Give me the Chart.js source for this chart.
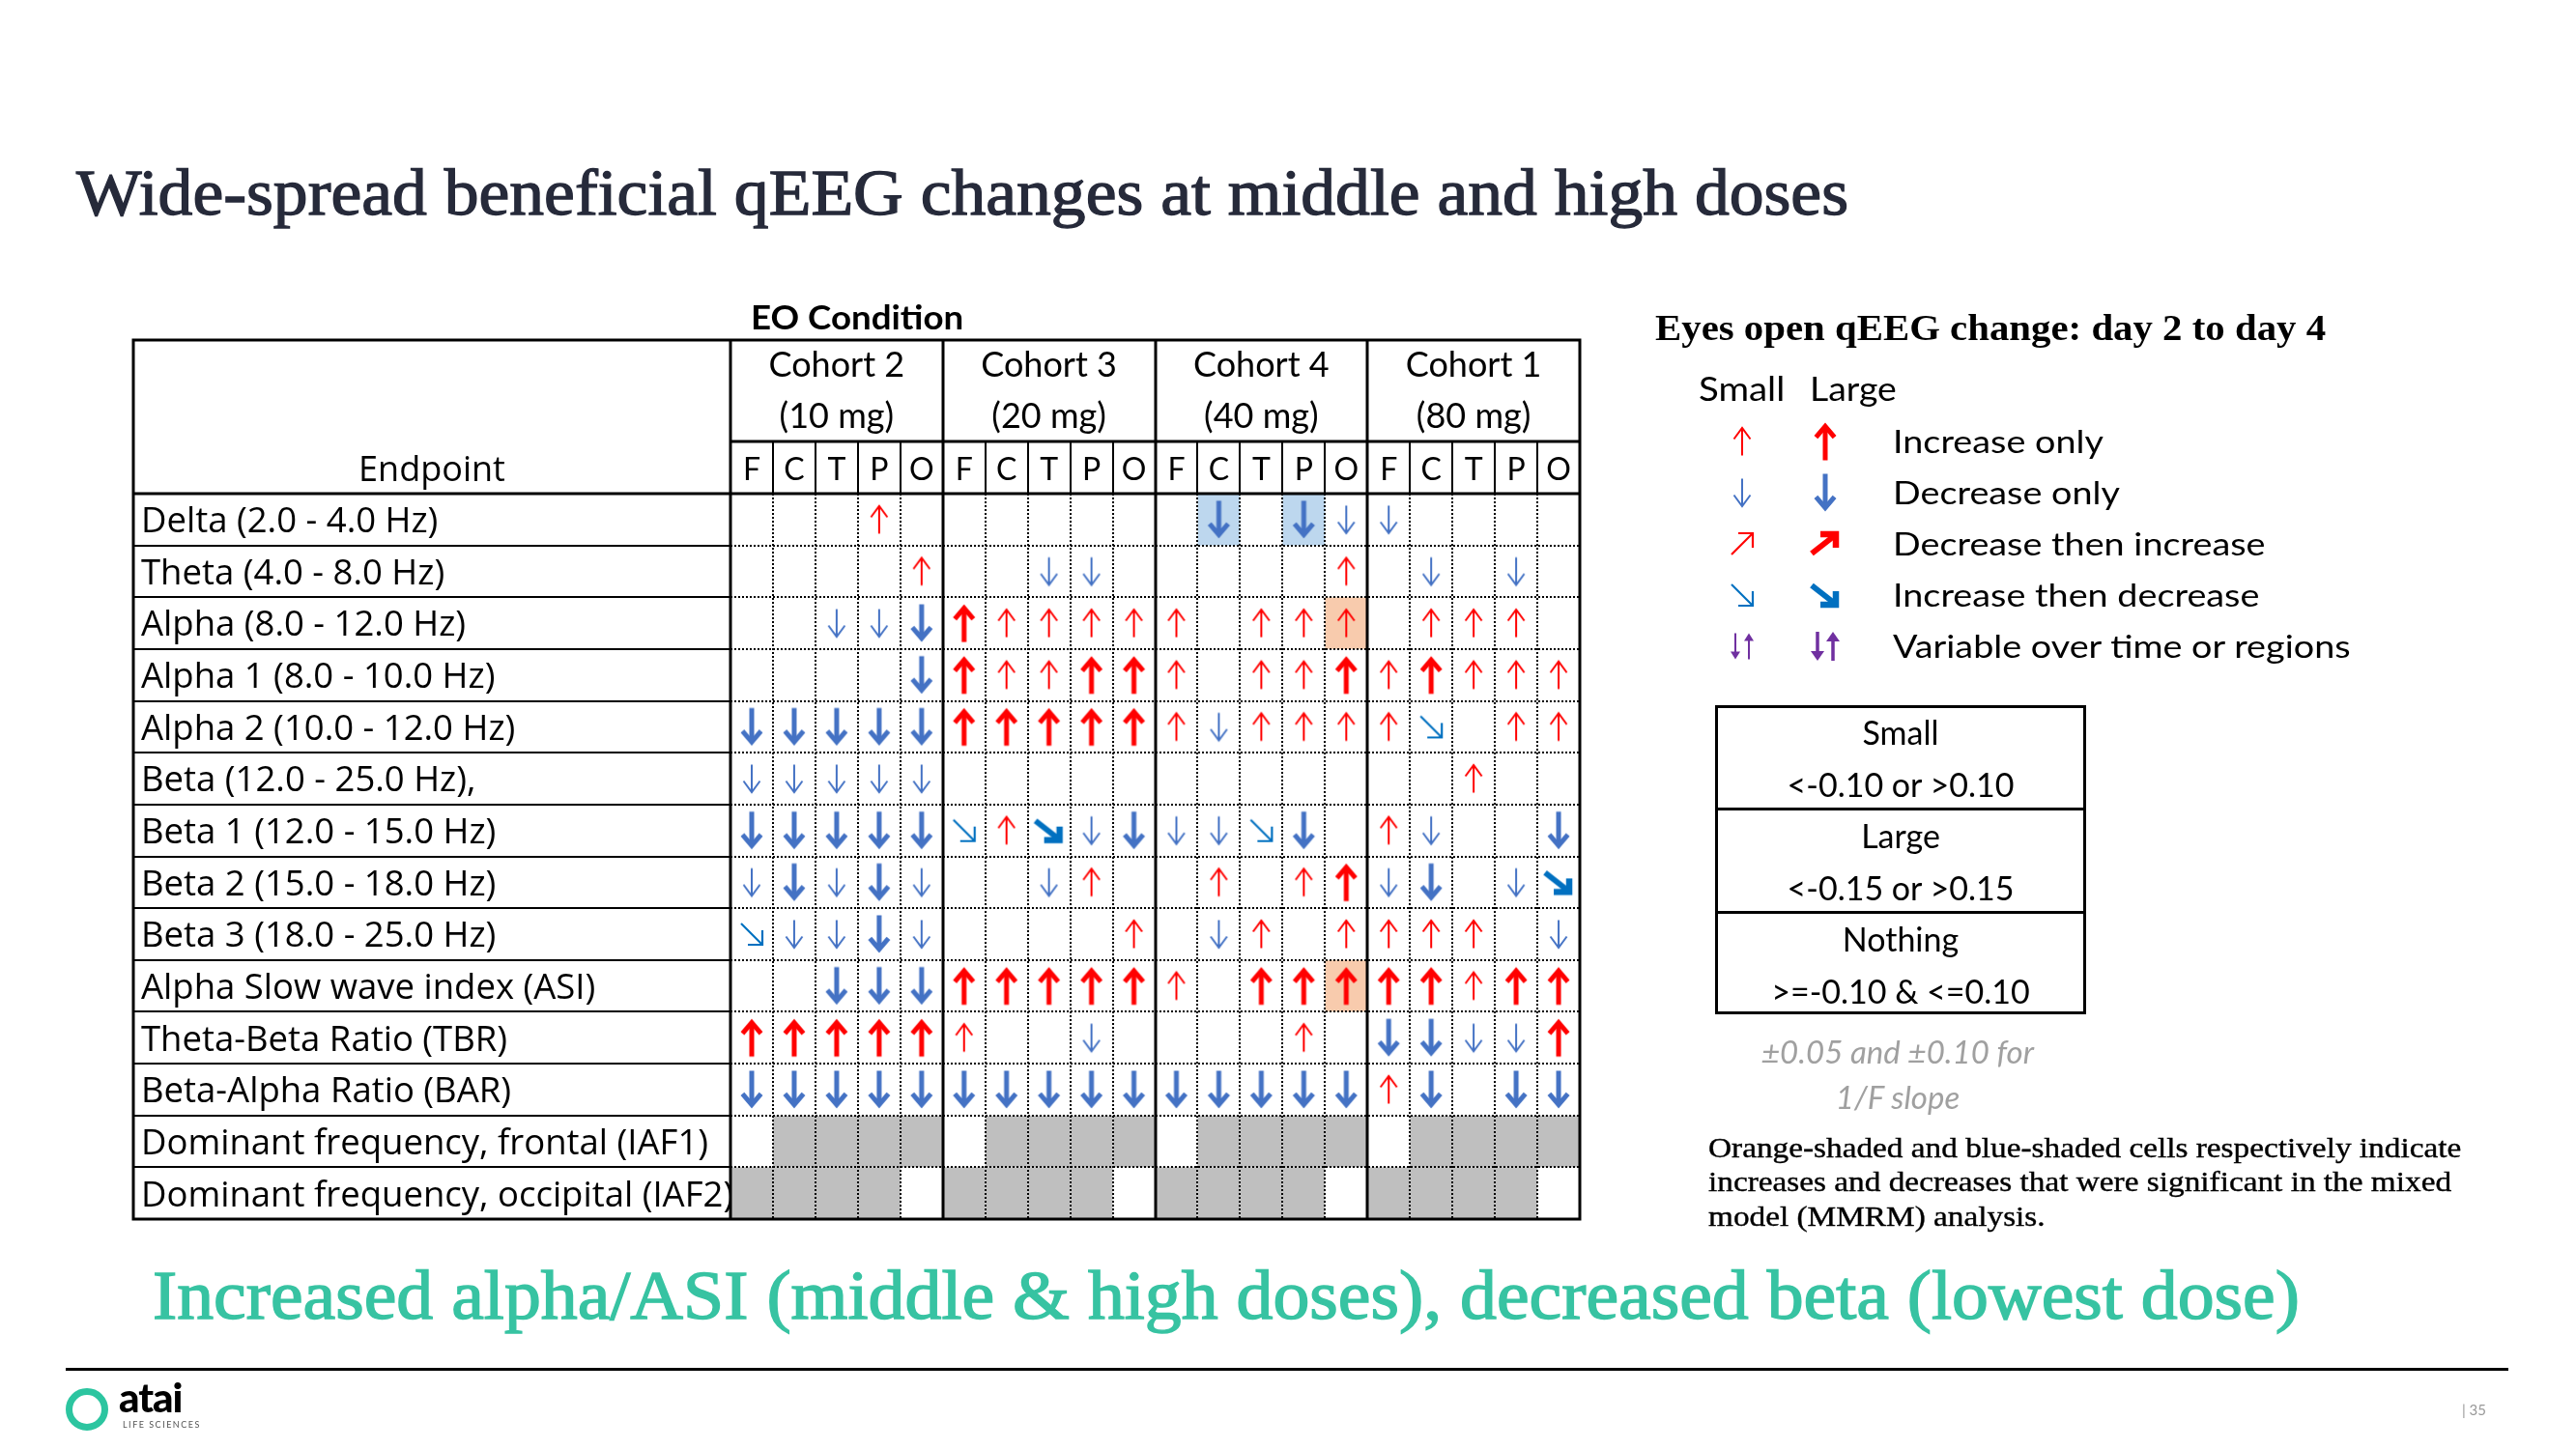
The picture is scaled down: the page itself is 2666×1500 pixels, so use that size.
<!DOCTYPE html>
<html>
<head>
<meta charset="utf-8">
<title>qEEG changes</title>
<script src="https://cdn.jsdelivr.net/npm/chart.js@4.4.1/dist/chart.umd.min.js"></script>
<style>
  html, body { margin: 0; padding: 0; background: #fff; }
  #page { position: relative; width: 2666px; height: 1500px; overflow: hidden; background: #fff; }
  #table { position: absolute; left: 0; top: 0; }
  .txt { position: absolute; white-space: nowrap; transform-origin: 0 50%; color: #000; }
  .serif { font-family: "Liberation Serif", serif; }
  .sans { font-family: Lato, sans-serif; }
  .center { text-align: center; }
  .arrow { position: absolute; }
</style>
</head>
<body>
<div id="page">
  <canvas id="table" width="2666" height="1500"></canvas>

  <div id="title" class="txt serif" style="left:79px;top:159px;font-size:68px;line-height:80px;color:#262a3a;-webkit-text-stroke:1.3px #262a3a">Wide-spread beneficial qEEG changes at middle and high doses</div>

  <div id="eo" class="txt sans" style="left:777px;top:307px;font-size:35px;line-height:40px;font-weight:700">EO Condition</div>
  <div class="txt center" style="left:138px;width:618px;top:465px;font-size:36px;line-height:40px;font-family:'Open Sans',sans-serif">Endpoint</div>

  <div id="legendTitle" class="txt serif" style="left:1713px;top:317px;font-size:38px;line-height:44px;font-weight:700">Eyes open qEEG change: day 2 to day 4</div>
  <div class="txt sans" style="left:1758px;top:382px;font-size:34px;line-height:40px;transform:scaleX(1.13)">Small</div>
  <div class="txt sans" style="left:1873px;top:382px;font-size:34px;line-height:40px;transform:scaleX(1.1)">Large</div>

  <div style="position:absolute;left:1775px;top:730px;width:384px;height:320px;border:3px solid #000;box-sizing:border-box"></div>
  <div style="position:absolute;left:1775px;top:836px;width:384px;height:3px;background:#000"></div>
  <div style="position:absolute;left:1775px;top:943px;width:384px;height:3px;background:#000"></div>

  <div class="txt sans center" style="left:1772px;width:384px;top:1068px;font-size:33px;line-height:40px;font-style:italic;color:#a0a0a0">±0.05 and ±0.10 for</div>
  <div class="txt sans center" style="left:1772px;width:384px;top:1115px;font-size:33px;line-height:40px;font-style:italic;color:#a0a0a0">1/F slope</div>

  <div id="note" class="txt serif" style="left:1768px;top:1170px;font-size:30px;line-height:35.3px;transform-origin:0 0;-webkit-text-stroke:0.4px #000">Orange-shaded and blue-shaded cells respectively indicate<br>increases and decreases that were significant in the mixed<br>model (MMRM) analysis.</div>

  <div id="takeaway" class="txt serif" style="left:158px;top:1299px;font-size:71px;line-height:84px;color:#37c3a2;-webkit-text-stroke:1.4px #37c3a2">Increased alpha/ASI (middle &amp; high doses), decreased beta (lowest dose)</div>

  <div style="position:absolute;left:68px;top:1416px;width:2528px;height:3px;background:#000"></div>
  <div style="position:absolute;left:68px;top:1437px;width:44px;height:44px;border-radius:50%;border:7px solid #2cc5a0;box-sizing:border-box"></div>
  <div class="txt sans" style="left:123px;top:1424px;font-size:42px;line-height:44px;font-weight:900;letter-spacing:-1px">atai</div>
  <div class="txt sans" style="left:127px;top:1469px;font-size:9px;line-height:12px;letter-spacing:1.5px;color:#555">LIFE SCIENCES</div>
  <div class="txt sans" style="left:2548px;top:1450px;font-size:15px;line-height:18px;color:#999">| 35</div>
</div>

<script>
const endpoints = [
  'Delta (2.0 - 4.0 Hz)', 'Theta (4.0 - 8.0 Hz)', 'Alpha (8.0 - 12.0 Hz)', 'Alpha 1 (8.0 - 10.0 Hz)',
  'Alpha 2 (10.0 - 12.0 Hz)', 'Beta (12.0 - 25.0 Hz),', 'Beta 1 (12.0 - 15.0 Hz)', 'Beta 2 (15.0 - 18.0 Hz)',
  'Beta 3 (18.0 - 25.0 Hz)', 'Alpha Slow wave index (ASI)', 'Theta-Beta Ratio (TBR)', 'Beta-Alpha Ratio (BAR)',
  'Dominant frequency, frontal (IAF1)', 'Dominant frequency, occipital (IAF2)'
];
const cohorts = [['Cohort 2', '(10 mg)'], ['Cohort 3', '(20 mg)'], ['Cohort 4', '(40 mg)'], ['Cohort 1', '(80 mg)']];
const regions = ['F', 'C', 'T', 'P', 'O'];

// one string per endpoint, 5 regions per cohort (table order)
// u/U = small/large increase, d/D = small/large decrease,
// e/E = small/large increase then decrease, g = not analysed (grey), . = nothing
const changes = [
  '...u. ..... .D.Dd d....',
  '....u ..dd. ....u .d.d.',
  '..ddD Uuuuu u.uuu .uuu.',
  '....D UuuUU u.uuU uUuuu',
  'DDDDD UUUUU uduuu ue.uu',
  'ddddd ..... ..... ..u..',
  'DDDDD euEdD ddeD. ud..D',
  'dDdDd ..du. .u.uU dD.dE',
  'eddDd ....u .du.u uuu.d',
  '..DDD UUUUU u.UUU UUuUU',
  'UUUUU u..d. ...u. DDddU',
  'DDDDD DDDDD DDDDD uD.DD',
  '.gggg .gggg .gggg .gggg',
  'gggg. gggg. gggg. gggg.'
];
// [row, column] of cells significant in the MMRM analysis
const sigIncrease = [[2, 14], [9, 14]];
const sigDecrease = [[0, 11], [0, 13]];

const legendItems = [
  ['u', 'U', 'Increase only'],
  ['d', 'D', 'Decrease only'],
  ['r', 'R', 'Decrease then increase'],
  ['e', 'E', 'Increase then decrease'],
  ['v', 'V', 'Variable over time or regions']
];
const thresholds = [
  ['Small', '<-0.10 or >0.10'],
  ['Large', '<-0.15 or >0.15'],
  ['Nothing', '>=-0.10 & <=0.10']
];

const RED = '#ff0000', BLUE = '#4472c4', DBLUE = '#0070c0', PURPLE = '#7030a0';

function drawUp(g, big) {
  if (big) {
    g.fillRect(-2.5, -13, 5, 32.5);
    g.beginPath();
    g.moveTo(0, -19.5); g.lineTo(11.5, -6); g.lineTo(7.7, -2.8);
    g.lineTo(0, -11.8); g.lineTo(-7.7, -2.8); g.lineTo(-11.5, -6);
    g.closePath(); g.fill();
  } else {
    g.lineWidth = 2;
    g.beginPath(); g.moveTo(0, 14.5); g.lineTo(0, -13.5); g.stroke();
    g.beginPath(); g.moveTo(-8.5, -2.5); g.lineTo(0, -14); g.lineTo(8.5, -2.5); g.stroke();
  }
}

function drawDiag(g, big) {
  g.lineJoin = 'miter';
  if (big) {
    g.lineWidth = 6;
    g.beginPath(); g.moveTo(-14, -10); g.lineTo(9, 8); g.stroke();
    g.lineWidth = 6.5;
    g.beginPath(); g.moveTo(11, -4); g.lineTo(11, 10); g.lineTo(-5, 10); g.stroke();
  } else {
    g.lineWidth = 2.2;
    g.beginPath(); g.moveTo(-11, -11); g.lineTo(11, 11); g.stroke();
    g.beginPath(); g.moveTo(11, -4); g.lineTo(11, 11); g.lineTo(-4, 11); g.stroke();
  }
}

function drawPair(g, big) {
  const w = big ? 3.5 : 2, h = big ? 15 : 13.5, hw = big ? 7 : 5, hh = big ? 10 : 8, ox = big ? 8 : 7;
  [[-ox, -1], [ox, 1]].forEach(([dx, dir]) => {
    g.save();
    g.translate(dx, 0);
    g.scale(1, dir);
    g.fillRect(-w / 2, -h + hh - 1, w, 2 * h - hh + 1);
    g.beginPath(); g.moveTo(0, -h); g.lineTo(hw, -h + hh); g.lineTo(-hw, -h + hh); g.closePath(); g.fill();
    g.restore();
  });
}

function makeArrow(kind) {
  const c = document.createElement('canvas');
  c.width = 48; c.height = 48;
  const g = c.getContext('2d');
  g.translate(24, 24);
  const big = kind === kind.toUpperCase();
  const k = kind.toLowerCase();
  g.fillStyle = g.strokeStyle = { u: RED, d: BLUE, r: RED, e: DBLUE, v: PURPLE }[k];
  if (k === 'd' || k === 'r') g.scale(1, -1);
  if (k === 'u' || k === 'd') drawUp(g, big);
  else if (k === 'e' || k === 'r') drawDiag(g, big);
  else drawPair(g, big);
  return c;
}

const cells = changes.map(s => s.replace(/ /g, '').split(''));
const nCols = cohorts.length * regions.length;

const arrowKinds = ['u', 'U', 'd', 'D', 'e', 'E'];
const datasets = arrowKinds.map(k => ({
  label: k,
  data: cells.flatMap((row, r) => row.map((v, c) => (v === k ? { x: c, y: r } : null)).filter(Boolean)),
  pointStyle: makeArrow(k),
  pointRadius: 20
}));

const tablePlugin = {
  id: 'eegTable',
  beforeDraw(chart) {
    const { ctx, scales: { x, y } } = chart;
    const fill = (r, c, color) => {
      const x0 = x.getPixelForValue(c - 0.5), x1 = x.getPixelForValue(c + 0.5);
      const y0 = y.getPixelForValue(r - 0.5), y1 = y.getPixelForValue(r + 0.5);
      ctx.fillStyle = color;
      ctx.fillRect(x0, y0, x1 - x0, y1 - y0);
    };
    ctx.save();
    cells.forEach((row, r) => row.forEach((v, c) => { if (v === 'g') fill(r, c, '#bfbfbf'); }));
    sigIncrease.forEach(([r, c]) => fill(r, c, '#f8cbad'));
    sigDecrease.forEach(([r, c]) => fill(r, c, '#bdd7ee'));
    ctx.restore();
  },
  beforeDatasetsDraw(chart) {
    const { ctx, chartArea: a, scales: { x, y, x2 } } = chart;
    const left = y.left - 8, top = x2.top, mid = x2.bottom;
    const line = (x0, y0, x1, y1, w, dash) => {
      ctx.lineWidth = w;
      ctx.setLineDash(dash || []);
      ctx.beginPath(); ctx.moveTo(x0, y0); ctx.lineTo(x1, y1); ctx.stroke();
    };
    ctx.save();
    ctx.strokeStyle = '#000';
    for (let r = 1; r < endpoints.length; r++) {
      const py = Math.round(y.getPixelForValue(r - 0.5));
      line(left, py, a.left, py, 2);
      line(a.left, py, a.right, py, 2, [2, 2]);
    }
    for (let c = 1; c < nCols; c++) {
      const px = Math.round(x.getPixelForValue(c - 0.5));
      if (c % regions.length === 0) {
        line(px, top, px, a.bottom, 3);
      } else {
        line(px, mid, px, a.top, 2);
        line(px, a.top, px, a.bottom, 2, [2, 2]);
      }
    }
    line(a.left, mid, a.right, mid, 3);
    line(left, a.top, a.right, a.top, 3);
    line(a.left, top, a.left, a.bottom, 3);
    ctx.setLineDash([]);
    ctx.lineWidth = 3;
    ctx.strokeRect(left, top, a.right - left, a.bottom - top);
    ctx.restore();
  }
};

const hidden = { grid: { display: false, drawTicks: false }, border: { display: false } };

new Chart(document.getElementById('table'), {
  type: 'scatter',
  data: { datasets },
  options: {
    responsive: false,
    animation: false,
    devicePixelRatio: 1,
    events: [],
    layout: { padding: { left: 146, top: 352, right: 1031, bottom: 238 } },
    plugins: { legend: { display: false }, tooltip: { enabled: false } },
    scales: {
      x: {
        ...hidden,
        type: 'linear', position: 'top', min: -0.5, max: nCols - 0.5,
        afterBuildTicks: s => { s.ticks = Array.from({ length: nCols }, (_, i) => ({ value: i })); },
        afterFit: s => { s.height = 54; },
        ticks: {
          autoSkip: false, maxRotation: 0, padding: 5, color: '#000',
          font: { family: 'Lato', size: 32 },
          callback: v => regions[v % regions.length]
        }
      },
      x2: {
        ...hidden,
        type: 'linear', position: 'top', weight: 1, min: 0, max: cohorts.length,
        afterBuildTicks: s => { s.ticks = cohorts.map((_, i) => ({ value: i + 0.5 })); },
        afterFit: s => { s.height = 105; },
        ticks: {
          autoSkip: false, maxRotation: 0, padding: 0, color: '#000',
          font: { family: 'Lato', size: 36, lineHeight: 1.45 },
          callback: v => cohorts[Math.floor(v)]
        }
      },
      y: {
        ...hidden,
        type: 'linear', min: -0.5, max: endpoints.length - 0.5, reverse: true,
        afterBuildTicks: s => { s.ticks = endpoints.map((_, i) => ({ value: i })); },
        afterFit: s => { s.width = 610; },
        ticks: {
          autoSkip: false, crossAlign: 'far', padding: 0, labelOffset: 3, color: '#000',
          font: { family: 'Open Sans', size: 36.5 },
          callback: v => endpoints[v]
        }
      }
    }
  },
  plugins: [tablePlugin]
});

// legend on the right
const page = document.getElementById('page');
function addText(html, style) {
  const d = document.createElement('div');
  d.className = 'txt sans';
  d.innerHTML = html;
  Object.assign(d.style, style);
  page.appendChild(d);
  return d;
}
function addArrow(kind, cx, cy) {
  const c = makeArrow(kind);
  c.className = 'arrow';
  c.style.left = (cx - 24) + 'px';
  c.style.top = (cy - 24) + 'px';
  page.appendChild(c);
}
legendItems.forEach(([small, large, text], i) => {
  const cy = 457 + i * 53;
  addArrow(small, 1803, cy);
  addArrow(large, 1889, cy);
  addText(text, { left: '1959px', top: (cy - 20) + 'px', fontSize: '32px', lineHeight: '40px', transform: 'scaleX(1.18)' });
});
const esc = s => s.replace(/&/g, '&amp;').replace(/</g, '&lt;').replace(/>/g, '&gt;');
thresholds.forEach(([name, range], i) => {
  const cy = 758 + i * 107;
  addText(esc(name), { left: '1775px', width: '384px', textAlign: 'center', top: (cy - 20) + 'px', fontSize: '34px', lineHeight: '40px' });
  addText(esc(range), { left: '1775px', width: '384px', textAlign: 'center', top: (cy + 34) + 'px', fontSize: '34px', lineHeight: '40px' });
});

function fit(id, width) {
  const el = document.getElementById(id);
  el.style.transform = 'scaleX(' + (width / el.offsetWidth) + ')';
}
fit('title', 1834);
fit('takeaway', 2222);
fit('legendTitle', 694);
fit('note', 779);
fit('eo', 220);
</script>
</body>
</html>
